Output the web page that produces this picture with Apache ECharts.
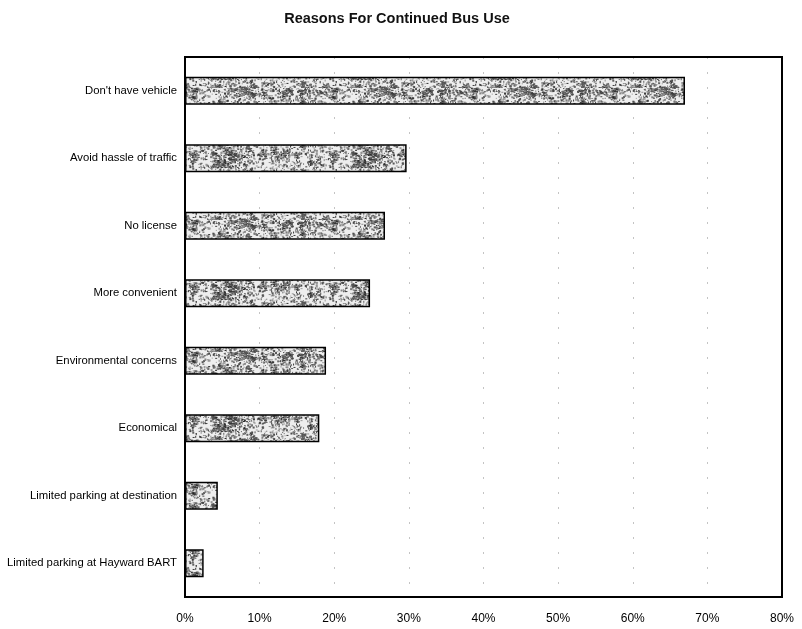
<!DOCTYPE html>
<html>
<head>
<meta charset="utf-8">
<script src="https://cdn.jsdelivr.net/npm/echarts@6/dist/echarts.min.js"></script>
<style>
  html, body { margin: 0; padding: 0; background: #fff; }
  #chart { width: 802px; height: 629px; }
</style>
</head>
<body>
<div id="chart"></div>
<script>
// Survey responses: reasons riders keep using the bus (percent of respondents)
const categories = [
  "Don't have vehicle",
  "Avoid hassle of traffic",
  "No license",
  "More convenient",
  "Environmental concerns",
  "Economical",
  "Limited parking at destination",
  "Limited parking at Hayward BART"
];
const percents = [67.0, 29.7, 26.8, 24.8, 18.9, 18.0, 4.4, 2.5];
const tickValues = [0, 10, 20, 30, 40, 50, 60, 70, 80];

// Speckled grey texture for the bar fill (deterministic LCG so it is stable)
function makeSpeckle() {
  const c = document.createElement('canvas');
  c.width = 140; c.height = 44;
  const ctx = c.getContext('2d');
  ctx.fillStyle = '#eeeeee';
  ctx.fillRect(0, 0, c.width, c.height);
  let s = 4242;
  const rnd = () => { s = (s * 1103515245 + 12345) & 0x7fffffff; return s / 0x7fffffff; };
  // clumps of dark grain
  for (let k = 0; k < 40; k++) {
    const cx = rnd() * c.width, cy = rnd() * c.height, rad = 3 + rnd() * 6;
    for (let i = 0; i < 28; i++) {
      const a = rnd() * Math.PI * 2, d = rnd() * rad;
      const g = 30 + Math.floor(rnd() * 80);
      ctx.fillStyle = 'rgb(' + g + ',' + g + ',' + g + ')';
      ctx.fillRect(cx + Math.cos(a) * d, cy + Math.sin(a) * d, 1 + Math.floor(rnd() * 2), 1);
    }
  }
  // scattered fine grain
  for (let i = 0; i < 1100; i++) {
    const x = rnd() * c.width, y = rnd() * c.height;
    const g = 50 + Math.floor(rnd() * 110);
    ctx.fillStyle = 'rgb(' + g + ',' + g + ',' + g + ')';
    ctx.fillRect(x, y, 1 + Math.floor(rnd() * 2), 1 + Math.floor(rnd() * 2));
  }
  return c;
}

const chart = echarts.init(document.getElementById('chart'), null, { renderer: 'canvas' });
chart.setOption({
  animation: false,
  backgroundColor: '#fff',
  title: {
    text: 'Reasons For Continued Bus Use',
    left: 392, top: 6, textAlign: 'center',
    textStyle: { fontFamily: 'Liberation Sans, Arial, sans-serif', fontSize: 14.5, fontWeight: 'bold', color: '#111' }
  },
  grid: {
    left: 185, right: 20, top: 57, bottom: 32,
    show: false
  },
  xAxis: {
    type: 'value', min: tickValues[0], max: tickValues[tickValues.length - 1], interval: 10,
    axisLine: { show: false }, axisTick: { show: false },
    axisLabel: {
      formatter: v => v + '%', margin: 16, color: '#000',
      fontFamily: 'Liberation Sans, Arial, sans-serif', fontSize: 12
    },
    splitLine: {
      show: true, showMinLine: false, showMaxLine: false,
      lineStyle: { color: '#c4c4c4', width: 1, type: [2, 13] }
    }
  },
  yAxis: {
    type: 'category', data: categories, inverse: true,
    axisLine: { show: false }, axisTick: { show: false },
    axisLabel: {
      margin: 8, color: '#000',
      fontFamily: 'Liberation Sans, Arial, sans-serif', fontSize: 11.3
    },
    splitLine: { show: false }
  },
  series: [{
    type: 'bar',
    data: percents,
    barWidth: 28,
    itemStyle: {
      color: { image: makeSpeckle(), repeat: 'repeat' },
      borderColor: '#000', borderWidth: 1.5
    }
  }]
});

// Plot frame drawn on top of the grid lines
const r = chart.getModel().getComponent('grid').coordinateSystem.getRect();
chart.setOption({
  graphic: [{
    type: 'rect', z: 100, silent: true,
    shape: { x: r.x, y: r.y, width: r.width, height: r.height },
    style: { fill: 'none', stroke: '#000', lineWidth: 2 }
  }]
});
</script>
</body>
</html>
